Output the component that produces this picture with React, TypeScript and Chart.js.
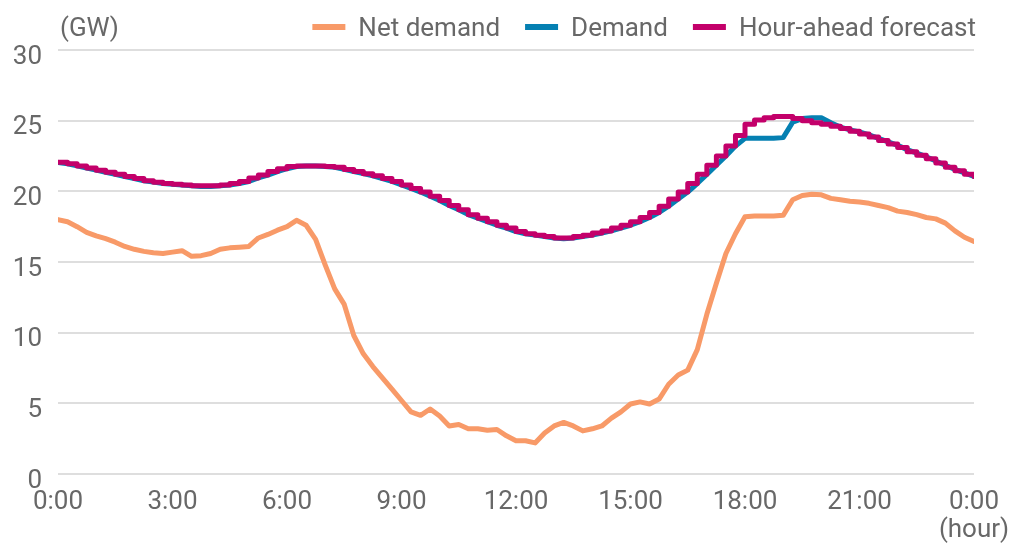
import React, { useEffect, useRef } from "react";
import { Chart, registerables } from "chart.js";

Chart.register(...registerables);

// 15-minute sampling, hours from 0:00 to 24:00
const HOURS: number[] = Array.from({ length: 97 }, (_, i) => i / 4);

const NET_DEMAND: number[] = [
  18.0, 17.85, 17.5, 17.1, 16.85, 16.65, 16.4, 16.1, 15.9, 15.75,
  15.65, 15.6, 15.7, 15.8, 15.4, 15.45, 15.6, 15.9, 16.0, 16.05,
  16.1, 16.7, 16.95, 17.25, 17.5, 17.95, 17.6, 16.6, 14.8, 13.1,
  12.0, 9.8, 8.5, 7.6, 6.8, 6.0, 5.2, 4.4, 4.15, 4.6,
  4.1, 3.4, 3.5, 3.2, 3.2, 3.1, 3.15, 2.7, 2.35, 2.35,
  2.2, 2.9, 3.4, 3.65, 3.4, 3.05, 3.2, 3.4, 3.95, 4.4,
  4.95, 5.1, 4.95, 5.3, 6.35, 7.0, 7.35, 8.8, 11.3, 13.5,
  15.6, 17.0, 18.2, 18.25, 18.25, 18.25, 18.3, 19.4, 19.7, 19.8,
  19.75, 19.5, 19.4, 19.3, 19.25, 19.15, 19.0, 18.85, 18.6, 18.5,
  18.35, 18.15, 18.05, 17.75, 17.2, 16.75, 16.45,
];

const DEMAND: number[] = [
  22.05, 21.95, 21.8, 21.65, 21.5, 21.35, 21.2, 21.05, 20.9, 20.75,
  20.65, 20.55, 20.5, 20.45, 20.4, 20.35, 20.35, 20.4, 20.45, 20.55,
  20.7, 20.95, 21.15, 21.4, 21.6, 21.75, 21.8, 21.8, 21.75, 21.7,
  21.55, 21.4, 21.25, 21.1, 20.9, 20.7, 20.45, 20.2, 19.95, 19.65,
  19.35, 19.0, 18.7, 18.35, 18.1, 17.85, 17.6, 17.4, 17.15, 17.0,
  16.9, 16.8, 16.7, 16.65, 16.7, 16.8, 16.9, 17.05, 17.2, 17.4,
  17.6, 17.85, 18.15, 18.5, 18.95, 19.45, 19.95, 20.55, 21.2, 21.85,
  22.5, 23.2, 23.75, 23.75, 23.75, 23.75, 23.8, 24.9, 25.15, 25.2,
  25.2, 24.85, 24.55, 24.35, 24.2, 24.0, 23.75, 23.5, 23.25, 22.95,
  22.7, 22.45, 22.15, 21.85, 21.55, 21.3, 21.05,
];

const FORECAST: number[] = [
  22.05, 21.95, 21.8, 21.65, 21.5, 21.35, 21.2, 21.05, 20.9, 20.75,
  20.65, 20.55, 20.5, 20.45, 20.4, 20.4, 20.4, 20.45, 20.55, 20.7,
  20.95, 21.15, 21.4, 21.6, 21.75, 21.8, 21.8, 21.8, 21.75, 21.7,
  21.55, 21.4, 21.25, 21.1, 20.9, 20.7, 20.45, 20.2, 19.95, 19.65,
  19.35, 19.0, 18.7, 18.35, 18.1, 17.85, 17.6, 17.4, 17.15, 17.0,
  16.9, 16.8, 16.7, 16.7, 16.8, 16.9, 17.05, 17.2, 17.4, 17.6,
  17.85, 18.15, 18.5, 18.95, 19.45, 19.95, 20.55, 21.2, 21.85, 22.5,
  23.2, 23.95, 24.75, 25.05, 25.2, 25.3, 25.3, 25.15, 25.0, 24.85,
  24.75, 24.6, 24.45, 24.25, 24.05, 23.85, 23.6, 23.35, 23.1, 22.8,
  22.55, 22.3, 22.0, 21.7, 21.45, 21.2, 21.05,
];

const SERIES_LABELS = ["Net demand", "Demand", "Hour-ahead forecast"];
const Y_UNIT = "(GW)";
const X_UNIT = "(hour)";

const FONT_FAMILY = "Roboto, 'Noto Sans', sans-serif";
const FONT_SIZE = 26;
const TEXT_COLOR = "#686868";
const GRID_COLOR = "#dedede";
const COLORS = ["#F89A68", "#0580B2", "#C3006A"];

const toPoints = (vals: number[]) => vals.map((v, i) => ({ x: HOURS[i], y: v }));

const legendPlugin = {
  id: "customLegend",
  afterDraw(chart: any) {
    const { ctx } = chart;
    ctx.save();
    ctx.font = `${FONT_SIZE}px ${FONT_FAMILY}`;
    ctx.textBaseline = "middle";
    ctx.textAlign = "left";
    const cy = 27;
    const ty = 29;
    ctx.fillStyle = TEXT_COLOR;
    ctx.fillText(Y_UNIT, 60, ty);
    const ds = chart.data.datasets;
    let right = 976;
    for (let i = ds.length - 1; i >= 0; i--) {
      const label = ds[i].label as string;
      const w = ctx.measureText(label).width;
      const tx = right - w;
      ctx.fillStyle = TEXT_COLOR;
      ctx.fillText(label, tx, ty);
      const swRight = tx - 13;
      const swW = 33;
      ctx.fillStyle = ds[i].borderColor;
      ctx.fillRect(swRight - swW, cy - 3, swW, 6);
      right = swRight - swW - 25;
    }
    ctx.restore();
  },
};

export default function App() {
  const ref = useRef<HTMLCanvasElement | null>(null);

  useEffect(() => {
    if (!ref.current) return;
    const chart = new Chart(ref.current, {
      type: "line",
      data: {
        datasets: [
          {
            label: SERIES_LABELS[0],
            data: toPoints(NET_DEMAND),
            borderColor: COLORS[0],
            backgroundColor: COLORS[0],
            borderWidth: 5,
            pointRadius: 0,
            tension: 0,
            borderJoinStyle: "round",
            borderCapStyle: "round",
            order: 2,
          },
          {
            label: SERIES_LABELS[1],
            data: toPoints(DEMAND),
            borderColor: COLORS[1],
            backgroundColor: COLORS[1],
            borderWidth: 5,
            pointRadius: 0,
            tension: 0,
            borderJoinStyle: "round",
            borderCapStyle: "round",
            order: 1,
          },
          {
            label: SERIES_LABELS[2],
            data: toPoints(FORECAST),
            borderColor: COLORS[2],
            backgroundColor: COLORS[2],
            borderWidth: 5,
            pointRadius: 0,
            stepped: true,
            borderJoinStyle: "round",
            borderCapStyle: "round",
            order: 0,
          },
        ],
      },
      options: {
        animation: false,
        responsive: false,
        layout: { padding: { top: 50, left: 0, right: 0, bottom: 0 } },
        plugins: {
          legend: { display: false },
          tooltip: { enabled: false },
        },
        scales: {
          x: {
            type: "linear",
            min: 0,
            max: 24,
            grid: { display: false, drawTicks: false },
            border: { display: false },
            ticks: {
              stepSize: 3,
              padding: 14,
              maxRotation: 0,
              autoSkip: false,
              color: TEXT_COLOR,
              font: { family: FONT_FAMILY, size: FONT_SIZE, lineHeight: 1.1 },
              callback: (v: any) => {
                const h = Number(v);
                if (h === 24) return ["0:00", X_UNIT];
                return `${h % 24}:00`;
              },
            },
            afterFit: (scale: any) => {
              scale.height = 69;
              scale.paddingLeft = 0;
              scale.paddingRight = 40;
            },
          },
          y: {
            min: 0,
            max: 30,
            grid: { color: GRID_COLOR, lineWidth: 2, drawTicks: false },
            border: { display: false },
            ticks: {
              stepSize: 5,
              padding: 16,
              labelOffset: 7,
              color: TEXT_COLOR,
              font: { family: FONT_FAMILY, size: FONT_SIZE },
            },
            afterFit: (scale: any) => {
              scale.width = 58;
            },
          },
        },
      },
      plugins: [legendPlugin],
    });
    return () => chart.destroy();
  }, []);

  return (
    <div style={{ position: "fixed", left: 0, top: 0, width: 1014, height: 543, background: "#fff" }}>
      <canvas ref={ref} width={1014} height={543} style={{ display: "block" }} />
    </div>
  );
}
